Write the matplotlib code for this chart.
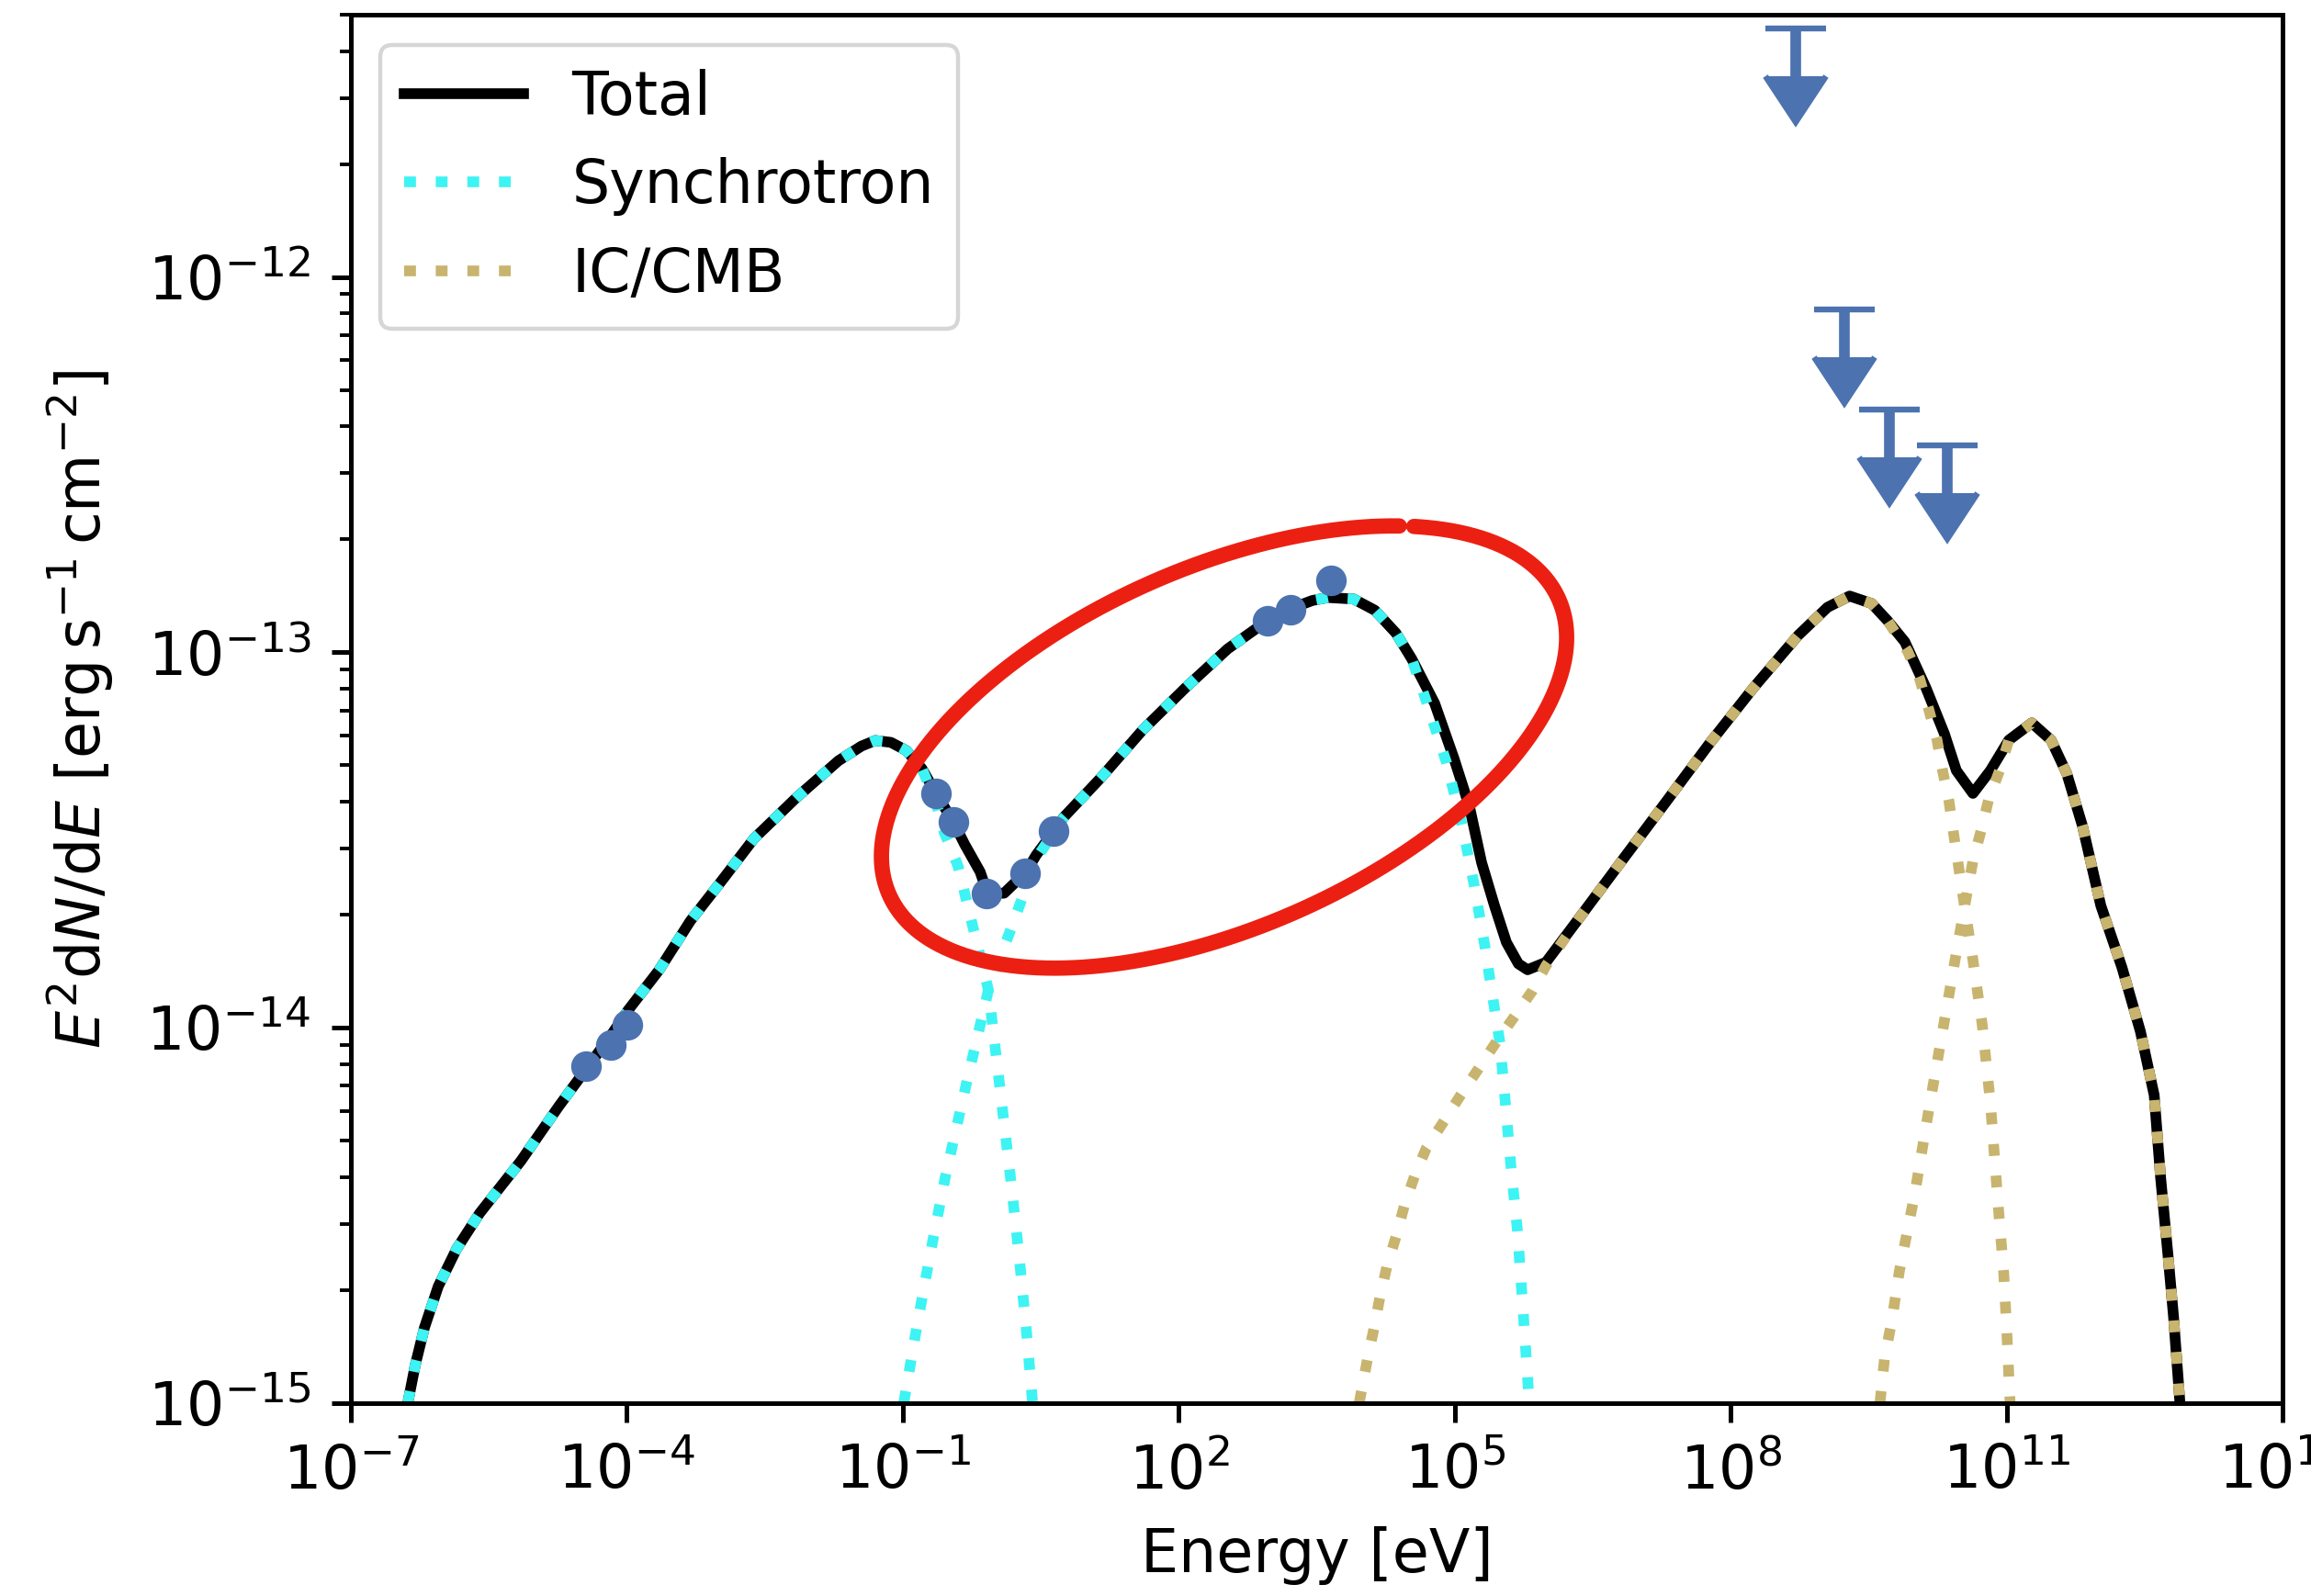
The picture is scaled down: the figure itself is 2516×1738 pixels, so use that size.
import numpy as np
import matplotlib
matplotlib.use("Agg")
import matplotlib.pyplot as plt
from matplotlib.lines import Line2D
from matplotlib.ticker import NullLocator

# ---------------------------------------------------------------------------
# Model curves: log10(E / eV) and log10(E^2 dN/dE / erg s^-1 cm^-2)
# ---------------------------------------------------------------------------
total_logE = [-6.38, -6.30, -6.20, -6.05, -5.85, -5.60, -5.15, -4.74, -4.44, -4.17, -3.99,
              -3.65, -3.31, -2.96, -2.62, -2.16, -1.70, -1.45, -1.30, -1.13, -0.96, -0.79,
              -0.64, -0.45, -0.33, -0.16, -0.08, 0.10, 0.24, 0.33, 0.45, 0.64, 0.75, 1.15,
              1.61, 2.07, 2.53, 2.96, 3.21, 3.45, 3.62, 3.90, 4.13, 4.36, 4.53, 4.78, 4.99,
              5.16, 5.29, 5.43, 5.56, 5.69, 5.79, 5.99, 6.33, 6.81, 7.29, 7.77, 8.25, 8.73,
              9.05, 9.29, 9.53, 9.70, 9.89, 10.12, 10.32, 10.45, 10.63, 10.82, 11.02, 11.27,
              11.48, 11.65, 11.82, 12.02, 12.25, 12.45, 12.60, 12.67, 12.75, 12.81, 12.88]
total_logF = [-15.0, -14.90, -14.80, -14.69, -14.59, -14.495, -14.355, -14.21, -14.11, -14.02, -13.955,
              -13.847, -13.716, -13.606, -13.497, -13.388, -13.289, -13.25, -13.235, -13.24, -13.262, -13.311,
              -13.376, -13.452, -13.511, -13.585, -13.642, -13.642, -13.609, -13.589, -13.54, -13.477, -13.439, -13.335,
              -13.206, -13.095, -12.991, -12.916, -12.884, -12.862, -12.854, -12.858, -12.888, -12.949, -13.017, -13.136, -13.283,
              -13.413, -13.560, -13.675, -13.773, -13.830, -13.846, -13.826, -13.715, -13.557, -13.400, -13.242, -13.093, -12.955,
              -12.88, -12.85, -12.87, -12.915, -12.972, -13.095, -13.217, -13.315, -13.376, -13.315, -13.234, -13.188,
              -13.234, -13.323, -13.462, -13.675, -13.84, -14.01, -14.18, -14.40, -14.606, -14.769, -15.0]

# synchrotron, low-energy electron population
sync_lo_logE = [-6.38, -6.30, -6.20, -6.05, -5.85, -5.60, -5.15, -4.74, -4.44, -4.17, -3.99,
                -3.65, -3.31, -2.96, -2.62, -2.16, -1.70, -1.45, -1.30, -1.13, -0.96, -0.79,
                -0.64, -0.55, -0.40, -0.32, -0.24, -0.07, 0.05, 0.17, 0.26, 0.34, 0.41]
sync_lo_logF = [-15.0, -14.90, -14.80, -14.69, -14.59, -14.495, -14.355, -14.21, -14.11, -14.02, -13.955,
                -13.847, -13.716, -13.606, -13.497, -13.388, -13.289, -13.25, -13.235, -13.24, -13.262, -13.311,
                -13.40, -13.48, -13.57, -13.65, -13.73, -13.90, -14.15, -14.40, -14.60, -14.80, -15.0]

# synchrotron, high-energy electron population
sync_hi_logE = [-0.99, -0.85, -0.70, -0.54, -0.31, -0.07, 0.17, 0.29, 0.45, 0.64, 0.75, 1.15,
                1.61, 2.07, 2.53, 2.96, 3.21, 3.45, 3.62, 3.90, 4.13, 4.36, 4.53, 4.69, 4.91,
                5.08, 5.21, 5.33, 5.38, 5.49, 5.55, 5.61, 5.68, 5.74, 5.80, 5.81]
sync_hi_logF = [-15.0, -14.80, -14.60, -14.40, -14.15, -13.90, -13.74, -13.66, -13.55, -13.48, -13.44, -13.335,
                -13.206, -13.095, -12.991, -12.916, -12.884, -12.862, -12.854, -12.858, -12.888, -12.949, -13.017, -13.131, -13.295,
                -13.462, -13.621, -13.789, -13.871, -14.042, -14.205, -14.373, -14.542, -14.75, -14.97, -15.0]

# inverse Compton on the CMB, low-energy electron population
ic_lo_logE = [3.96, 4.05, 4.12, 4.19, 4.26, 4.36, 4.45, 4.56, 4.69, 4.88, 5.06, 5.25, 5.44,
              5.64, 5.84, 5.99, 6.33, 6.81, 7.29, 7.77, 8.25, 8.73, 9.05, 9.29, 9.53, 9.70,
              9.92, 10.05, 10.15, 10.24, 10.30, 10.37, 10.42, 10.47, 10.52, 10.63, 10.73,
              10.82, 10.905, 10.965, 11.0, 11.03, 11.035]
ic_lo_logF = [-15.0, -14.883, -14.802, -14.712, -14.638, -14.557, -14.475, -14.397, -14.321, -14.25, -14.181, -14.112, -14.042,
              -13.973, -13.903, -13.835, -13.715, -13.557, -13.40, -13.242, -13.093, -12.955, -12.88, -12.85, -12.87, -12.915,
              -12.997, -13.07, -13.152, -13.234, -13.315, -13.397, -13.483, -13.564, -13.646, -13.82, -13.99,
              -14.20, -14.475, -14.655, -14.818, -14.98, -15.0]

# inverse Compton on the CMB, high-energy electron population
ic_hi_logE = [9.62, 9.67, 9.75, 9.83, 9.92, 10.0, 10.15, 10.30, 10.45, 10.57, 10.63, 10.72,
              10.80, 10.92, 11.02, 11.27, 11.48, 11.65, 11.82, 12.02, 12.25, 12.45, 12.60,
              12.67, 12.75, 12.81, 12.88]
ic_hi_logF = [-15.0, -14.88, -14.78, -14.65, -14.54, -14.44, -14.22, -14.01, -13.80, -13.636, -13.556, -13.474,
              -13.393, -13.315, -13.234, -13.188, -13.234, -13.323, -13.462, -13.675, -13.84, -14.01, -14.18,
              -14.40, -14.606, -14.769, -15.0]

# ---------------------------------------------------------------------------
# Observations
# ---------------------------------------------------------------------------
obs_energy = [3.63e-5, 6.70e-5, 1.02e-4,
              0.231, 0.357, 0.817, 2.13, 4.38,
              920.0, 1637.0, 4529.0]
obs_flux = [7.89e-15, 8.99e-15, 1.016e-14,
            4.21e-14, 3.53e-14, 2.27e-14, 2.58e-14, 3.33e-14,
            1.216e-13, 1.30e-13, 1.552e-13]

# gamma-ray upper limits
ul_energy = [5.09e8, 1.70e9, 5.24e9, 2.23e10]
ul_flux = [4.61e-12, 8.20e-13, 4.44e-13, 3.56e-13]

# ---------------------------------------------------------------------------
W, H, DPI = 2516, 1738, 200
FS = 23.4
LW = 4.2
BLUE = "#4C72B0"
CYAN = "#3EF3F3"
TAN = "#C8B46E"
RED = "#EC2012"
DOTS = (0, (1.1, 1.85))

plt.rcParams.update({
    "font.family": ["DejaVu Sans"],
    "font.size": FS,
    "axes.linewidth": 1.8,
    "xtick.major.size": 7.5, "xtick.major.width": 1.8,
    "ytick.major.size": 7.5, "ytick.major.width": 1.8,
    "xtick.minor.size": 4.3, "xtick.minor.width": 1.4,
    "ytick.minor.size": 4.3, "ytick.minor.width": 1.4,
    "xtick.major.pad": 8.2, "ytick.major.pad": 8.2,
    "axes.labelpad": 9.4,
    "legend.fontsize": FS,
    "patch.linewidth": 1.6,
})

fig = plt.figure(figsize=(W / DPI, H / DPI), dpi=DPI)
ax = fig.add_axes([381.9 / W, 210.4 / H, (2485.5 - 381.9) / W, (1527.6 - 16.1) / H])


def lin(v):
    return 10.0 ** np.asarray(v, dtype=float)


ax.plot(lin(total_logE), lin(total_logF), color="black", lw=LW, label="Total")
ax.plot(lin(sync_lo_logE), lin(sync_lo_logF), color=CYAN, lw=LW, ls=DOTS, label="Synchrotron")
ax.plot(lin(sync_hi_logE), lin(sync_hi_logF), color=CYAN, lw=LW, ls=DOTS)
ax.plot(lin(ic_lo_logE), lin(ic_lo_logF), color=TAN, lw=LW, ls=DOTS, label="IC/CMB")
ax.plot(lin(ic_hi_logE), lin(ic_hi_logF), color=TAN, lw=LW, ls=DOTS)

ax.plot(obs_energy, obs_flux, "o", color=BLUE, ms=11, mew=1.0, zorder=3)

ul_flux_arr = np.asarray(ul_flux)
ul = ax.errorbar(ul_energy, ul_flux_arr, yerr=0.255 * ul_flux_arr, uplims=True, fmt="none",
                 ecolor=BLUE, elinewidth=LW, capsize=12.0, capthick=2.3, zorder=3)
for cap in ul.lines[1]:
    cap.set_markerfacecolor(BLUE)
    cap.set_markeredgecolor(BLUE)

ax.set_xscale("log")
ax.set_yscale("log")
ax.set_xlim(1e-7, 1e14)
ax.set_ylim(1e-15, 5e-12)
ax.set_xticks(10.0 ** np.arange(-7, 15, 3))
ax.xaxis.set_minor_locator(NullLocator())

ax.set_xlabel("Energy [eV]")
ax.set_ylabel(r"$E^2\mathrm{d}N/\mathrm{d}E$ [$\mathrm{erg\,s^{-1}\,cm^{-2}}$]", labelpad=12.0)
ax.legend(loc="upper left")

# Hand-drawn red ring highlighting the optical / X-ray part of the spectrum
cx, cy = 1332.6, H - 813.5
a, b = 398.4, 195.9
tilt = np.deg2rad(23.8)
t = np.linspace(0.82, 0.82 + 2 * np.pi - 0.05, 600)
px = cx + a * np.cos(t) * np.cos(tilt) - b * np.sin(t) * np.sin(tilt)
py = cy + a * np.cos(t) * np.sin(tilt) + b * np.sin(t) * np.cos(tilt)
fig.add_artist(Line2D(px / W, py / H, transform=fig.transFigure, color=RED, lw=6.0,
                      solid_capstyle="round", zorder=10))

fig.savefig("out.png", dpi=DPI)
